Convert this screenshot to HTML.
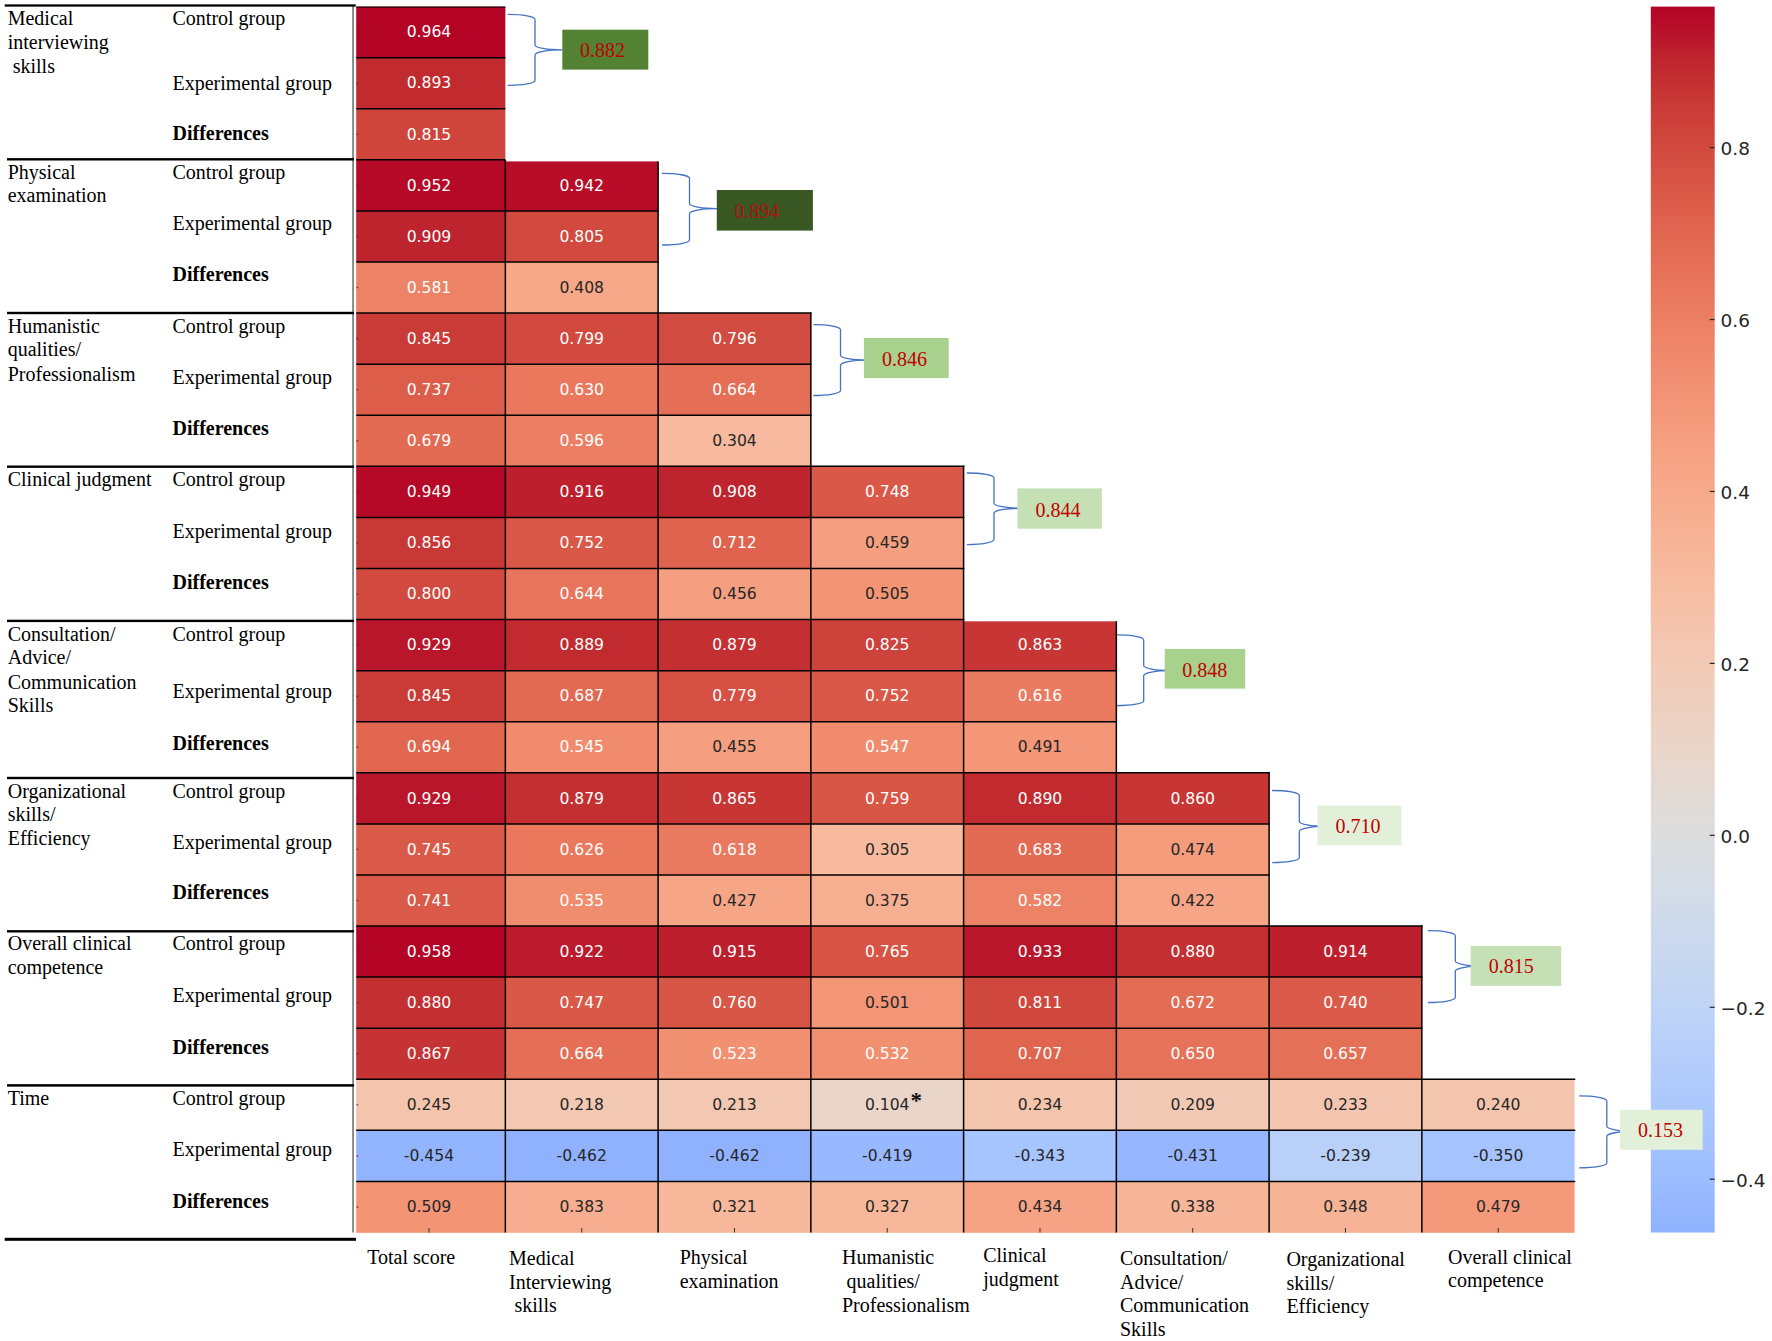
<!DOCTYPE html>
<html><head><meta charset="utf-8"><title>Correlation heatmap</title>
<style>
html,body{margin:0;padding:0;background:#fff;}
body{width:1772px;height:1341px;position:relative;overflow:hidden;}
.an{font-family:"DejaVu Sans","Liberation Sans",sans-serif;font-size:15.6px;}
.cbt{font-family:"DejaVu Sans","Liberation Sans",sans-serif;font-size:18.5px;}
.lb{font-family:"Liberation Serif","Times New Roman",serif;font-size:20px;fill:#000;}
.lbb{font-family:"Liberation Serif","Times New Roman",serif;font-size:20px;font-weight:bold;fill:#000;}
.bx{font-family:"Liberation Serif","Times New Roman",serif;font-size:20px;}
.st{font-family:"Liberation Serif","Times New Roman",serif;font-size:23px;font-weight:bold;}
</style></head><body>
<svg width="1772" height="1341" viewBox="0 0 1772 1341" style="position:absolute;left:0;top:0">
<defs><linearGradient id="cb" x1="0" y1="0" x2="0" y2="1"><stop offset="0.0000" stop-color="#b40426"/><stop offset="0.0208" stop-color="#b8122a"/><stop offset="0.0417" stop-color="#be242e"/><stop offset="0.0625" stop-color="#c43032"/><stop offset="0.0833" stop-color="#ca3b37"/><stop offset="0.1042" stop-color="#cf453c"/><stop offset="0.1250" stop-color="#d44e41"/><stop offset="0.1458" stop-color="#d85646"/><stop offset="0.1667" stop-color="#dd5f4b"/><stop offset="0.1875" stop-color="#e16751"/><stop offset="0.2083" stop-color="#e46e56"/><stop offset="0.2292" stop-color="#e8765c"/><stop offset="0.2500" stop-color="#eb7d62"/><stop offset="0.2708" stop-color="#ee8468"/><stop offset="0.2917" stop-color="#f08b6e"/><stop offset="0.3125" stop-color="#f29274"/><stop offset="0.3333" stop-color="#f4987a"/><stop offset="0.3542" stop-color="#f59f80"/><stop offset="0.3750" stop-color="#f6a586"/><stop offset="0.3958" stop-color="#f7a98b"/><stop offset="0.4167" stop-color="#f7af91"/><stop offset="0.4375" stop-color="#f7b497"/><stop offset="0.4583" stop-color="#f7b99e"/><stop offset="0.4792" stop-color="#f6bea4"/><stop offset="0.5000" stop-color="#f5c2aa"/><stop offset="0.5208" stop-color="#f3c7b1"/><stop offset="0.5417" stop-color="#f2cbb7"/><stop offset="0.5625" stop-color="#efcebd"/><stop offset="0.5833" stop-color="#edd2c3"/><stop offset="0.6042" stop-color="#ead5c9"/><stop offset="0.6250" stop-color="#e6d7cf"/><stop offset="0.6458" stop-color="#e2dad5"/><stop offset="0.6667" stop-color="#dedcdb"/><stop offset="0.6875" stop-color="#dadce0"/><stop offset="0.7083" stop-color="#d6dce4"/><stop offset="0.7292" stop-color="#d2dbe8"/><stop offset="0.7500" stop-color="#cdd9ec"/><stop offset="0.7708" stop-color="#cad8ef"/><stop offset="0.7917" stop-color="#c5d6f2"/><stop offset="0.8125" stop-color="#c0d4f5"/><stop offset="0.8333" stop-color="#bbd1f8"/><stop offset="0.8542" stop-color="#b6cefa"/><stop offset="0.8750" stop-color="#b1cbfc"/><stop offset="0.8958" stop-color="#abc8fd"/><stop offset="0.9167" stop-color="#a6c4fe"/><stop offset="0.9375" stop-color="#a1c0ff"/><stop offset="0.9583" stop-color="#9bbcff"/><stop offset="0.9792" stop-color="#96b7ff"/><stop offset="1.0000" stop-color="#90b2fe"/></linearGradient></defs>
<rect x="356.20" y="6.60" width="149.15" height="51.38" fill="#b40426"/>
<rect x="356.20" y="57.68" width="149.15" height="51.38" fill="#c12b30"/>
<rect x="356.20" y="108.76" width="149.15" height="51.38" fill="#cf453c"/>
<rect x="356.20" y="159.84" width="149.15" height="51.38" fill="#b50927"/>
<rect x="505.35" y="161.40" width="152.75" height="49.82" fill="#b70d28"/>
<rect x="356.20" y="210.92" width="149.15" height="51.38" fill="#be242e"/>
<rect x="505.35" y="210.92" width="152.75" height="51.38" fill="#d1493f"/>
<rect x="356.20" y="262.00" width="149.15" height="51.38" fill="#ed8366"/>
<rect x="505.35" y="262.00" width="152.75" height="51.38" fill="#f7a889"/>
<rect x="356.20" y="313.08" width="149.15" height="51.38" fill="#ca3b37"/>
<rect x="505.35" y="313.08" width="152.75" height="51.38" fill="#d1493f"/>
<rect x="658.10" y="313.08" width="152.75" height="51.38" fill="#d24b40"/>
<rect x="356.20" y="364.16" width="149.15" height="51.38" fill="#dc5d4a"/>
<rect x="505.35" y="364.16" width="152.75" height="51.38" fill="#e9785d"/>
<rect x="658.10" y="364.16" width="152.75" height="51.38" fill="#e46e56"/>
<rect x="356.20" y="415.24" width="149.15" height="51.38" fill="#e36b54"/>
<rect x="505.35" y="415.24" width="152.75" height="51.38" fill="#ec7f63"/>
<rect x="658.10" y="415.24" width="152.75" height="51.38" fill="#f7ba9f"/>
<rect x="356.20" y="466.32" width="149.15" height="51.38" fill="#b50927"/>
<rect x="505.35" y="466.32" width="152.75" height="51.38" fill="#bd1f2d"/>
<rect x="658.10" y="466.32" width="152.75" height="51.38" fill="#be242e"/>
<rect x="810.85" y="466.32" width="152.75" height="51.38" fill="#d95847"/>
<rect x="356.20" y="517.40" width="149.15" height="51.38" fill="#c83836"/>
<rect x="505.35" y="517.40" width="152.75" height="51.38" fill="#d95847"/>
<rect x="658.10" y="517.40" width="152.75" height="51.38" fill="#df634e"/>
<rect x="810.85" y="517.40" width="152.75" height="51.38" fill="#f59f80"/>
<rect x="356.20" y="568.48" width="149.15" height="51.38" fill="#d1493f"/>
<rect x="505.35" y="568.48" width="152.75" height="51.38" fill="#e7745b"/>
<rect x="658.10" y="568.48" width="152.75" height="51.38" fill="#f59f80"/>
<rect x="810.85" y="568.48" width="152.75" height="51.38" fill="#f39475"/>
<rect x="356.20" y="619.56" width="149.15" height="51.38" fill="#ba162b"/>
<rect x="505.35" y="619.56" width="152.75" height="51.38" fill="#c12b30"/>
<rect x="658.10" y="619.56" width="152.75" height="51.38" fill="#c43032"/>
<rect x="810.85" y="619.56" width="152.75" height="51.38" fill="#cd423b"/>
<rect x="963.60" y="621.30" width="152.75" height="49.64" fill="#c73635"/>
<rect x="356.20" y="670.64" width="149.15" height="51.38" fill="#ca3b37"/>
<rect x="505.35" y="670.64" width="152.75" height="51.38" fill="#e26952"/>
<rect x="658.10" y="670.64" width="152.75" height="51.38" fill="#d55042"/>
<rect x="810.85" y="670.64" width="152.75" height="51.38" fill="#d95847"/>
<rect x="963.60" y="670.64" width="152.75" height="51.38" fill="#ea7b60"/>
<rect x="356.20" y="721.72" width="149.15" height="51.38" fill="#e16751"/>
<rect x="505.35" y="721.72" width="152.75" height="51.38" fill="#f08b6e"/>
<rect x="658.10" y="721.72" width="152.75" height="51.38" fill="#f59f80"/>
<rect x="810.85" y="721.72" width="152.75" height="51.38" fill="#f08b6e"/>
<rect x="963.60" y="721.72" width="152.75" height="51.38" fill="#f39778"/>
<rect x="356.20" y="772.80" width="149.15" height="51.38" fill="#ba162b"/>
<rect x="505.35" y="772.80" width="152.75" height="51.38" fill="#c43032"/>
<rect x="658.10" y="772.80" width="152.75" height="51.38" fill="#c73635"/>
<rect x="810.85" y="772.80" width="152.75" height="51.38" fill="#d85646"/>
<rect x="963.60" y="772.80" width="152.75" height="51.38" fill="#c12b30"/>
<rect x="1116.35" y="772.80" width="152.75" height="51.38" fill="#c73635"/>
<rect x="356.20" y="823.88" width="149.15" height="51.38" fill="#da5a49"/>
<rect x="505.35" y="823.88" width="152.75" height="51.38" fill="#e9785d"/>
<rect x="658.10" y="823.88" width="152.75" height="51.38" fill="#e97a5f"/>
<rect x="810.85" y="823.88" width="152.75" height="51.38" fill="#f7ba9f"/>
<rect x="963.60" y="823.88" width="152.75" height="51.38" fill="#e36b54"/>
<rect x="1116.35" y="823.88" width="152.75" height="51.38" fill="#f59c7d"/>
<rect x="356.20" y="874.96" width="149.15" height="51.38" fill="#da5a49"/>
<rect x="505.35" y="874.96" width="152.75" height="51.38" fill="#f18d6f"/>
<rect x="658.10" y="874.96" width="152.75" height="51.38" fill="#f6a586"/>
<rect x="810.85" y="874.96" width="152.75" height="51.38" fill="#f7af91"/>
<rect x="963.60" y="874.96" width="152.75" height="51.38" fill="#ed8366"/>
<rect x="1116.35" y="874.96" width="152.75" height="51.38" fill="#f6a586"/>
<rect x="356.20" y="926.04" width="149.15" height="51.38" fill="#b40426"/>
<rect x="505.35" y="926.04" width="152.75" height="51.38" fill="#bb1b2c"/>
<rect x="658.10" y="926.04" width="152.75" height="51.38" fill="#bd1f2d"/>
<rect x="810.85" y="926.04" width="152.75" height="51.38" fill="#d75445"/>
<rect x="963.60" y="926.04" width="152.75" height="51.38" fill="#ba162b"/>
<rect x="1116.35" y="926.04" width="152.75" height="51.38" fill="#c43032"/>
<rect x="1269.10" y="926.04" width="152.75" height="51.38" fill="#bd1f2d"/>
<rect x="356.20" y="977.12" width="149.15" height="51.38" fill="#c43032"/>
<rect x="505.35" y="977.12" width="152.75" height="51.38" fill="#d95847"/>
<rect x="658.10" y="977.12" width="152.75" height="51.38" fill="#d85646"/>
<rect x="810.85" y="977.12" width="152.75" height="51.38" fill="#f39577"/>
<rect x="963.60" y="977.12" width="152.75" height="51.38" fill="#d0473d"/>
<rect x="1116.35" y="977.12" width="152.75" height="51.38" fill="#e36c55"/>
<rect x="1269.10" y="977.12" width="152.75" height="51.38" fill="#da5a49"/>
<rect x="356.20" y="1028.20" width="149.15" height="51.38" fill="#c53334"/>
<rect x="505.35" y="1028.20" width="152.75" height="51.38" fill="#e46e56"/>
<rect x="658.10" y="1028.20" width="152.75" height="51.38" fill="#f29072"/>
<rect x="810.85" y="1028.20" width="152.75" height="51.38" fill="#f18f71"/>
<rect x="963.60" y="1028.20" width="152.75" height="51.38" fill="#e0654f"/>
<rect x="1116.35" y="1028.20" width="152.75" height="51.38" fill="#e67259"/>
<rect x="1269.10" y="1028.20" width="152.75" height="51.38" fill="#e57058"/>
<rect x="356.20" y="1079.28" width="149.15" height="51.38" fill="#f5c4ac"/>
<rect x="505.35" y="1079.28" width="152.75" height="51.38" fill="#f3c8b2"/>
<rect x="658.10" y="1079.28" width="152.75" height="51.38" fill="#f3c8b2"/>
<rect x="810.85" y="1079.28" width="152.75" height="51.38" fill="#ead5c9"/>
<rect x="963.60" y="1079.28" width="152.75" height="51.38" fill="#f4c5ad"/>
<rect x="1116.35" y="1079.28" width="152.75" height="51.38" fill="#f2c9b4"/>
<rect x="1269.10" y="1079.28" width="152.75" height="51.38" fill="#f4c6af"/>
<rect x="1421.85" y="1079.28" width="152.75" height="51.38" fill="#f4c5ad"/>
<rect x="356.20" y="1130.36" width="149.15" height="51.38" fill="#92b4fe"/>
<rect x="505.35" y="1130.36" width="152.75" height="51.38" fill="#90b2fe"/>
<rect x="658.10" y="1130.36" width="152.75" height="51.38" fill="#90b2fe"/>
<rect x="810.85" y="1130.36" width="152.75" height="51.38" fill="#98b9ff"/>
<rect x="963.60" y="1130.36" width="152.75" height="51.38" fill="#a6c4fe"/>
<rect x="1116.35" y="1130.36" width="152.75" height="51.38" fill="#96b7ff"/>
<rect x="1269.10" y="1130.36" width="152.75" height="51.38" fill="#b9d0f9"/>
<rect x="1421.85" y="1130.36" width="152.75" height="51.38" fill="#a5c3fe"/>
<rect x="356.20" y="1181.44" width="149.15" height="51.38" fill="#f39475"/>
<rect x="505.35" y="1181.44" width="152.75" height="51.38" fill="#f7ad90"/>
<rect x="658.10" y="1181.44" width="152.75" height="51.38" fill="#f7b89c"/>
<rect x="810.85" y="1181.44" width="152.75" height="51.38" fill="#f7b79b"/>
<rect x="963.60" y="1181.44" width="152.75" height="51.38" fill="#f6a385"/>
<rect x="1116.35" y="1181.44" width="152.75" height="51.38" fill="#f7b599"/>
<rect x="1269.10" y="1181.44" width="152.75" height="51.38" fill="#f7b396"/>
<rect x="1421.85" y="1181.44" width="152.75" height="51.38" fill="#f49a7b"/>
<line x1="356.20" y1="7.10" x2="505.35" y2="7.10" stroke="#000" stroke-width="1.00"/>
<line x1="356.20" y1="57.68" x2="505.35" y2="57.68" stroke="#000" stroke-width="1.50"/>
<line x1="356.20" y1="108.76" x2="505.35" y2="108.76" stroke="#000" stroke-width="1.50"/>
<line x1="356.20" y1="159.84" x2="505.35" y2="159.84" stroke="#000" stroke-width="1.50"/>
<line x1="356.20" y1="210.92" x2="658.80" y2="210.92" stroke="#000" stroke-width="1.50"/>
<line x1="356.20" y1="262.00" x2="658.80" y2="262.00" stroke="#000" stroke-width="1.50"/>
<line x1="356.20" y1="313.08" x2="811.55" y2="313.08" stroke="#000" stroke-width="1.50"/>
<line x1="356.20" y1="364.16" x2="811.55" y2="364.16" stroke="#000" stroke-width="1.50"/>
<line x1="356.20" y1="415.24" x2="811.55" y2="415.24" stroke="#000" stroke-width="1.50"/>
<line x1="356.20" y1="466.32" x2="964.30" y2="466.32" stroke="#000" stroke-width="1.50"/>
<line x1="356.20" y1="517.40" x2="964.30" y2="517.40" stroke="#000" stroke-width="1.50"/>
<line x1="356.20" y1="568.48" x2="964.30" y2="568.48" stroke="#000" stroke-width="1.50"/>
<line x1="356.20" y1="619.56" x2="964.30" y2="619.56" stroke="#000" stroke-width="1.50"/>
<line x1="356.20" y1="670.64" x2="1117.05" y2="670.64" stroke="#000" stroke-width="1.50"/>
<line x1="356.20" y1="721.72" x2="1117.05" y2="721.72" stroke="#000" stroke-width="1.50"/>
<line x1="356.20" y1="772.80" x2="1269.80" y2="772.80" stroke="#000" stroke-width="1.50"/>
<line x1="356.20" y1="823.88" x2="1269.80" y2="823.88" stroke="#000" stroke-width="1.50"/>
<line x1="356.20" y1="874.96" x2="1269.80" y2="874.96" stroke="#000" stroke-width="1.50"/>
<line x1="356.20" y1="926.04" x2="1422.55" y2="926.04" stroke="#000" stroke-width="1.50"/>
<line x1="356.20" y1="977.12" x2="1422.55" y2="977.12" stroke="#000" stroke-width="1.50"/>
<line x1="356.20" y1="1028.20" x2="1422.55" y2="1028.20" stroke="#000" stroke-width="1.50"/>
<line x1="356.20" y1="1079.28" x2="1575.30" y2="1079.28" stroke="#000" stroke-width="1.50"/>
<line x1="356.20" y1="1130.36" x2="1575.30" y2="1130.36" stroke="#000" stroke-width="1.50"/>
<line x1="356.20" y1="1181.44" x2="1575.30" y2="1181.44" stroke="#000" stroke-width="1.50"/>
<line x1="505.35" y1="159.84" x2="505.35" y2="1232.52" stroke="#000" stroke-width="1.50"/>
<line x1="658.10" y1="161.40" x2="658.10" y2="1232.52" stroke="#000" stroke-width="1.50"/>
<line x1="810.85" y1="312.38" x2="810.85" y2="1232.52" stroke="#000" stroke-width="1.50"/>
<line x1="963.60" y1="465.62" x2="963.60" y2="1232.52" stroke="#000" stroke-width="1.50"/>
<line x1="1116.35" y1="621.30" x2="1116.35" y2="1232.52" stroke="#000" stroke-width="1.50"/>
<line x1="1269.10" y1="772.10" x2="1269.10" y2="1232.52" stroke="#000" stroke-width="1.50"/>
<line x1="1421.85" y1="925.34" x2="1421.85" y2="1232.52" stroke="#000" stroke-width="1.50"/>
<line x1="428.98" y1="1228.02" x2="428.98" y2="1232.52" stroke="#333" stroke-width="1"/>
<line x1="581.73" y1="1228.02" x2="581.73" y2="1232.52" stroke="#333" stroke-width="1"/>
<line x1="734.48" y1="1228.02" x2="734.48" y2="1232.52" stroke="#333" stroke-width="1"/>
<line x1="887.23" y1="1228.02" x2="887.23" y2="1232.52" stroke="#333" stroke-width="1"/>
<line x1="1039.97" y1="1228.02" x2="1039.97" y2="1232.52" stroke="#333" stroke-width="1"/>
<line x1="1192.72" y1="1228.02" x2="1192.72" y2="1232.52" stroke="#333" stroke-width="1"/>
<line x1="1345.47" y1="1228.02" x2="1345.47" y2="1232.52" stroke="#333" stroke-width="1"/>
<line x1="1498.22" y1="1228.02" x2="1498.22" y2="1232.52" stroke="#333" stroke-width="1"/>
<rect x="356.60" y="31.44" width="1.6" height="1.4" fill="#7a1010" opacity="0.8"/>
<rect x="356.60" y="82.52" width="1.6" height="1.4" fill="#7a1010" opacity="0.8"/>
<rect x="356.60" y="133.60" width="1.6" height="1.4" fill="#7a1010" opacity="0.8"/>
<rect x="356.60" y="184.68" width="1.6" height="1.4" fill="#7a1010" opacity="0.8"/>
<rect x="356.60" y="235.76" width="1.6" height="1.4" fill="#7a1010" opacity="0.8"/>
<rect x="356.60" y="286.84" width="1.6" height="1.4" fill="#7a1010" opacity="0.8"/>
<rect x="356.60" y="337.92" width="1.6" height="1.4" fill="#7a1010" opacity="0.8"/>
<rect x="356.60" y="389.00" width="1.6" height="1.4" fill="#7a1010" opacity="0.8"/>
<rect x="356.60" y="440.08" width="1.6" height="1.4" fill="#7a1010" opacity="0.8"/>
<rect x="356.60" y="491.16" width="1.6" height="1.4" fill="#7a1010" opacity="0.8"/>
<rect x="356.60" y="542.24" width="1.6" height="1.4" fill="#7a1010" opacity="0.8"/>
<rect x="356.60" y="593.32" width="1.6" height="1.4" fill="#7a1010" opacity="0.8"/>
<rect x="356.60" y="644.40" width="1.6" height="1.4" fill="#7a1010" opacity="0.8"/>
<rect x="356.60" y="695.48" width="1.6" height="1.4" fill="#7a1010" opacity="0.8"/>
<rect x="356.60" y="746.56" width="1.6" height="1.4" fill="#7a1010" opacity="0.8"/>
<rect x="356.60" y="797.64" width="1.6" height="1.4" fill="#7a1010" opacity="0.8"/>
<rect x="356.60" y="848.72" width="1.6" height="1.4" fill="#7a1010" opacity="0.8"/>
<rect x="356.60" y="899.80" width="1.6" height="1.4" fill="#7a1010" opacity="0.8"/>
<rect x="356.60" y="950.88" width="1.6" height="1.4" fill="#7a1010" opacity="0.8"/>
<rect x="356.60" y="1001.96" width="1.6" height="1.4" fill="#7a1010" opacity="0.8"/>
<rect x="356.60" y="1053.04" width="1.6" height="1.4" fill="#7a1010" opacity="0.8"/>
<rect x="356.60" y="1104.12" width="1.6" height="1.4" fill="#7a1010" opacity="0.8"/>
<rect x="356.60" y="1155.20" width="1.6" height="1.4" fill="#7a1010" opacity="0.8"/>
<rect x="356.60" y="1206.28" width="1.6" height="1.4" fill="#7a1010" opacity="0.8"/>
<text x="428.98" y="37.34" class="an" fill="#ffffff" text-anchor="middle">0.964</text>
<text x="428.98" y="88.42" class="an" fill="#ffffff" text-anchor="middle">0.893</text>
<text x="428.98" y="139.50" class="an" fill="#ffffff" text-anchor="middle">0.815</text>
<text x="428.98" y="190.58" class="an" fill="#ffffff" text-anchor="middle">0.952</text>
<text x="581.73" y="190.58" class="an" fill="#ffffff" text-anchor="middle">0.942</text>
<text x="428.98" y="241.66" class="an" fill="#ffffff" text-anchor="middle">0.909</text>
<text x="581.73" y="241.66" class="an" fill="#ffffff" text-anchor="middle">0.805</text>
<text x="428.98" y="292.74" class="an" fill="#ffffff" text-anchor="middle">0.581</text>
<text x="581.73" y="292.74" class="an" fill="#262626" text-anchor="middle">0.408</text>
<text x="428.98" y="343.82" class="an" fill="#ffffff" text-anchor="middle">0.845</text>
<text x="581.73" y="343.82" class="an" fill="#ffffff" text-anchor="middle">0.799</text>
<text x="734.48" y="343.82" class="an" fill="#ffffff" text-anchor="middle">0.796</text>
<text x="428.98" y="394.90" class="an" fill="#ffffff" text-anchor="middle">0.737</text>
<text x="581.73" y="394.90" class="an" fill="#ffffff" text-anchor="middle">0.630</text>
<text x="734.48" y="394.90" class="an" fill="#ffffff" text-anchor="middle">0.664</text>
<text x="428.98" y="445.98" class="an" fill="#ffffff" text-anchor="middle">0.679</text>
<text x="581.73" y="445.98" class="an" fill="#ffffff" text-anchor="middle">0.596</text>
<text x="734.48" y="445.98" class="an" fill="#262626" text-anchor="middle">0.304</text>
<text x="428.98" y="497.06" class="an" fill="#ffffff" text-anchor="middle">0.949</text>
<text x="581.73" y="497.06" class="an" fill="#ffffff" text-anchor="middle">0.916</text>
<text x="734.48" y="497.06" class="an" fill="#ffffff" text-anchor="middle">0.908</text>
<text x="887.23" y="497.06" class="an" fill="#ffffff" text-anchor="middle">0.748</text>
<text x="428.98" y="548.14" class="an" fill="#ffffff" text-anchor="middle">0.856</text>
<text x="581.73" y="548.14" class="an" fill="#ffffff" text-anchor="middle">0.752</text>
<text x="734.48" y="548.14" class="an" fill="#ffffff" text-anchor="middle">0.712</text>
<text x="887.23" y="548.14" class="an" fill="#262626" text-anchor="middle">0.459</text>
<text x="428.98" y="599.22" class="an" fill="#ffffff" text-anchor="middle">0.800</text>
<text x="581.73" y="599.22" class="an" fill="#ffffff" text-anchor="middle">0.644</text>
<text x="734.48" y="599.22" class="an" fill="#262626" text-anchor="middle">0.456</text>
<text x="887.23" y="599.22" class="an" fill="#262626" text-anchor="middle">0.505</text>
<text x="428.98" y="650.30" class="an" fill="#ffffff" text-anchor="middle">0.929</text>
<text x="581.73" y="650.30" class="an" fill="#ffffff" text-anchor="middle">0.889</text>
<text x="734.48" y="650.30" class="an" fill="#ffffff" text-anchor="middle">0.879</text>
<text x="887.23" y="650.30" class="an" fill="#ffffff" text-anchor="middle">0.825</text>
<text x="1039.97" y="650.30" class="an" fill="#ffffff" text-anchor="middle">0.863</text>
<text x="428.98" y="701.38" class="an" fill="#ffffff" text-anchor="middle">0.845</text>
<text x="581.73" y="701.38" class="an" fill="#ffffff" text-anchor="middle">0.687</text>
<text x="734.48" y="701.38" class="an" fill="#ffffff" text-anchor="middle">0.779</text>
<text x="887.23" y="701.38" class="an" fill="#ffffff" text-anchor="middle">0.752</text>
<text x="1039.97" y="701.38" class="an" fill="#ffffff" text-anchor="middle">0.616</text>
<text x="428.98" y="752.46" class="an" fill="#ffffff" text-anchor="middle">0.694</text>
<text x="581.73" y="752.46" class="an" fill="#ffffff" text-anchor="middle">0.545</text>
<text x="734.48" y="752.46" class="an" fill="#262626" text-anchor="middle">0.455</text>
<text x="887.23" y="752.46" class="an" fill="#ffffff" text-anchor="middle">0.547</text>
<text x="1039.97" y="752.46" class="an" fill="#262626" text-anchor="middle">0.491</text>
<text x="428.98" y="803.54" class="an" fill="#ffffff" text-anchor="middle">0.929</text>
<text x="581.73" y="803.54" class="an" fill="#ffffff" text-anchor="middle">0.879</text>
<text x="734.48" y="803.54" class="an" fill="#ffffff" text-anchor="middle">0.865</text>
<text x="887.23" y="803.54" class="an" fill="#ffffff" text-anchor="middle">0.759</text>
<text x="1039.97" y="803.54" class="an" fill="#ffffff" text-anchor="middle">0.890</text>
<text x="1192.72" y="803.54" class="an" fill="#ffffff" text-anchor="middle">0.860</text>
<text x="428.98" y="854.62" class="an" fill="#ffffff" text-anchor="middle">0.745</text>
<text x="581.73" y="854.62" class="an" fill="#ffffff" text-anchor="middle">0.626</text>
<text x="734.48" y="854.62" class="an" fill="#ffffff" text-anchor="middle">0.618</text>
<text x="887.23" y="854.62" class="an" fill="#262626" text-anchor="middle">0.305</text>
<text x="1039.97" y="854.62" class="an" fill="#ffffff" text-anchor="middle">0.683</text>
<text x="1192.72" y="854.62" class="an" fill="#262626" text-anchor="middle">0.474</text>
<text x="428.98" y="905.70" class="an" fill="#ffffff" text-anchor="middle">0.741</text>
<text x="581.73" y="905.70" class="an" fill="#ffffff" text-anchor="middle">0.535</text>
<text x="734.48" y="905.70" class="an" fill="#262626" text-anchor="middle">0.427</text>
<text x="887.23" y="905.70" class="an" fill="#262626" text-anchor="middle">0.375</text>
<text x="1039.97" y="905.70" class="an" fill="#ffffff" text-anchor="middle">0.582</text>
<text x="1192.72" y="905.70" class="an" fill="#262626" text-anchor="middle">0.422</text>
<text x="428.98" y="956.78" class="an" fill="#ffffff" text-anchor="middle">0.958</text>
<text x="581.73" y="956.78" class="an" fill="#ffffff" text-anchor="middle">0.922</text>
<text x="734.48" y="956.78" class="an" fill="#ffffff" text-anchor="middle">0.915</text>
<text x="887.23" y="956.78" class="an" fill="#ffffff" text-anchor="middle">0.765</text>
<text x="1039.97" y="956.78" class="an" fill="#ffffff" text-anchor="middle">0.933</text>
<text x="1192.72" y="956.78" class="an" fill="#ffffff" text-anchor="middle">0.880</text>
<text x="1345.47" y="956.78" class="an" fill="#ffffff" text-anchor="middle">0.914</text>
<text x="428.98" y="1007.86" class="an" fill="#ffffff" text-anchor="middle">0.880</text>
<text x="581.73" y="1007.86" class="an" fill="#ffffff" text-anchor="middle">0.747</text>
<text x="734.48" y="1007.86" class="an" fill="#ffffff" text-anchor="middle">0.760</text>
<text x="887.23" y="1007.86" class="an" fill="#262626" text-anchor="middle">0.501</text>
<text x="1039.97" y="1007.86" class="an" fill="#ffffff" text-anchor="middle">0.811</text>
<text x="1192.72" y="1007.86" class="an" fill="#ffffff" text-anchor="middle">0.672</text>
<text x="1345.47" y="1007.86" class="an" fill="#ffffff" text-anchor="middle">0.740</text>
<text x="428.98" y="1058.94" class="an" fill="#ffffff" text-anchor="middle">0.867</text>
<text x="581.73" y="1058.94" class="an" fill="#ffffff" text-anchor="middle">0.664</text>
<text x="734.48" y="1058.94" class="an" fill="#ffffff" text-anchor="middle">0.523</text>
<text x="887.23" y="1058.94" class="an" fill="#ffffff" text-anchor="middle">0.532</text>
<text x="1039.97" y="1058.94" class="an" fill="#ffffff" text-anchor="middle">0.707</text>
<text x="1192.72" y="1058.94" class="an" fill="#ffffff" text-anchor="middle">0.650</text>
<text x="1345.47" y="1058.94" class="an" fill="#ffffff" text-anchor="middle">0.657</text>
<text x="428.98" y="1110.02" class="an" fill="#262626" text-anchor="middle">0.245</text>
<text x="581.73" y="1110.02" class="an" fill="#262626" text-anchor="middle">0.218</text>
<text x="734.48" y="1110.02" class="an" fill="#262626" text-anchor="middle">0.213</text>
<text x="887.23" y="1110.02" class="an" fill="#262626" text-anchor="middle">0.104</text>
<text x="910.43" y="1107.72" class="st" fill="#111">*</text>
<text x="1039.97" y="1110.02" class="an" fill="#262626" text-anchor="middle">0.234</text>
<text x="1192.72" y="1110.02" class="an" fill="#262626" text-anchor="middle">0.209</text>
<text x="1345.47" y="1110.02" class="an" fill="#262626" text-anchor="middle">0.233</text>
<text x="1498.22" y="1110.02" class="an" fill="#262626" text-anchor="middle">0.240</text>
<text x="428.98" y="1161.10" class="an" fill="#262626" text-anchor="middle">-0.454</text>
<text x="581.73" y="1161.10" class="an" fill="#262626" text-anchor="middle">-0.462</text>
<text x="734.48" y="1161.10" class="an" fill="#262626" text-anchor="middle">-0.462</text>
<text x="887.23" y="1161.10" class="an" fill="#262626" text-anchor="middle">-0.419</text>
<text x="1039.97" y="1161.10" class="an" fill="#262626" text-anchor="middle">-0.343</text>
<text x="1192.72" y="1161.10" class="an" fill="#262626" text-anchor="middle">-0.431</text>
<text x="1345.47" y="1161.10" class="an" fill="#262626" text-anchor="middle">-0.239</text>
<text x="1498.22" y="1161.10" class="an" fill="#262626" text-anchor="middle">-0.350</text>
<text x="428.98" y="1212.18" class="an" fill="#262626" text-anchor="middle">0.509</text>
<text x="581.73" y="1212.18" class="an" fill="#262626" text-anchor="middle">0.383</text>
<text x="734.48" y="1212.18" class="an" fill="#262626" text-anchor="middle">0.321</text>
<text x="887.23" y="1212.18" class="an" fill="#262626" text-anchor="middle">0.327</text>
<text x="1039.97" y="1212.18" class="an" fill="#262626" text-anchor="middle">0.434</text>
<text x="1192.72" y="1212.18" class="an" fill="#262626" text-anchor="middle">0.338</text>
<text x="1345.47" y="1212.18" class="an" fill="#262626" text-anchor="middle">0.348</text>
<text x="1498.22" y="1212.18" class="an" fill="#262626" text-anchor="middle">0.479</text>
<rect x="1650.80" y="6.60" width="63.90" height="1225.92" fill="url(#cb)"/>
<line x1="1709.70" y1="147.59" x2="1714.70" y2="147.59" stroke="#262626" stroke-width="1.2"/>
<text x="1720.60" y="155.19" class="cbt" fill="#262626">0.8</text>
<line x1="1709.70" y1="319.53" x2="1714.70" y2="319.53" stroke="#262626" stroke-width="1.2"/>
<text x="1720.60" y="327.13" class="cbt" fill="#262626">0.6</text>
<line x1="1709.70" y1="491.47" x2="1714.70" y2="491.47" stroke="#262626" stroke-width="1.2"/>
<text x="1720.60" y="499.07" class="cbt" fill="#262626">0.4</text>
<line x1="1709.70" y1="663.40" x2="1714.70" y2="663.40" stroke="#262626" stroke-width="1.2"/>
<text x="1720.60" y="671.00" class="cbt" fill="#262626">0.2</text>
<line x1="1709.70" y1="835.34" x2="1714.70" y2="835.34" stroke="#262626" stroke-width="1.2"/>
<text x="1720.60" y="842.94" class="cbt" fill="#262626">0.0</text>
<line x1="1709.70" y1="1007.28" x2="1714.70" y2="1007.28" stroke="#262626" stroke-width="1.2"/>
<text x="1720.60" y="1014.88" class="cbt" fill="#262626">−0.2</text>
<line x1="1709.70" y1="1179.22" x2="1714.70" y2="1179.22" stroke="#262626" stroke-width="1.2"/>
<text x="1720.60" y="1186.82" class="cbt" fill="#262626">−0.4</text>
<path d="M507.7 14.4 A27.3 5.0 0 0 1 535.0 19.4 L535.0 44.9 A27.3 5.0 0 0 0 562.3 49.9 A27.3 5.0 0 0 0 535.0 54.9 L535.0 80.4 A27.3 5.0 0 0 1 507.7 85.4" fill="none" stroke="#4472c4" stroke-width="1.3"/>
<rect x="562.3" y="29.7" width="86.0" height="39.9" fill="#548235"/>
<text x="602.6" y="57.0" class="bx" fill="#c00000" text-anchor="middle">0.882</text>
<path d="M662.0 173.3 A27.5 5.0 0 0 1 689.5 178.3 L689.5 203.6 A27.5 5.0 0 0 0 717.0 208.6 A27.5 5.0 0 0 0 689.5 213.6 L689.5 240.0 A27.5 5.0 0 0 1 662.0 245.0" fill="none" stroke="#4472c4" stroke-width="1.3"/>
<rect x="716.8" y="190.0" width="96.1" height="40.6" fill="#385723"/>
<text x="756.7" y="217.8" class="bx" fill="#b01010" text-anchor="middle">0.894</text>
<path d="M813.4 324.6 A27.1 5.0 0 0 1 840.5 329.6 L840.5 355.2 A27.1 5.0 0 0 0 867.6 360.2 A27.1 5.0 0 0 0 840.5 365.2 L840.5 390.5 A27.1 5.0 0 0 1 813.4 395.5" fill="none" stroke="#4472c4" stroke-width="1.3"/>
<rect x="863.9" y="338.0" width="84.8" height="40.1" fill="#a9d18e"/>
<text x="904.5" y="366.2" class="bx" fill="#c00000" text-anchor="middle">0.846</text>
<path d="M966.9 473.0 A27.1 5.0 0 0 1 994.0 478.0 L994.0 503.2 A27.1 5.0 0 0 0 1021.1 508.2 A27.1 5.0 0 0 0 994.0 513.2 L994.0 539.6 A27.1 5.0 0 0 1 966.9 544.6" fill="none" stroke="#4472c4" stroke-width="1.3"/>
<rect x="1017.4" y="488.4" width="84.4" height="40.3" fill="#c5e0b4"/>
<text x="1058.0" y="516.8" class="bx" fill="#c00000" text-anchor="middle">0.844</text>
<path d="M1116.9 634.9 A26.8 5.0 0 0 1 1143.7 639.9 L1143.7 665.6 A26.8 5.0 0 0 0 1170.5 670.6 A26.8 5.0 0 0 0 1143.7 675.6 L1143.7 700.7 A26.8 5.0 0 0 1 1116.9 705.7" fill="none" stroke="#4472c4" stroke-width="1.3"/>
<rect x="1164.7" y="648.9" width="80.5" height="39.7" fill="#a9d18e"/>
<text x="1204.8" y="676.7" class="bx" fill="#c00000" text-anchor="middle">0.848</text>
<path d="M1272.1 790.5 A27.2 5.0 0 0 1 1299.3 795.5 L1299.3 821.4 A27.2 5.0 0 0 0 1326.5 826.4 A27.2 5.0 0 0 0 1299.3 831.4 L1299.3 857.7 A27.2 5.0 0 0 1 1272.1 862.7" fill="none" stroke="#4472c4" stroke-width="1.3"/>
<rect x="1317.5" y="805.6" width="84.0" height="39.7" fill="#e2f0d9"/>
<text x="1358.0" y="832.7" class="bx" fill="#c00000" text-anchor="middle">0.710</text>
<path d="M1427.9 930.6 A27.4 5.0 0 0 1 1455.3 935.6 L1455.3 961.1 A27.4 5.0 0 0 0 1482.7 966.1 A27.4 5.0 0 0 0 1455.3 971.1 L1455.3 997.5 A27.4 5.0 0 0 1 1427.9 1002.5" fill="none" stroke="#4472c4" stroke-width="1.3"/>
<rect x="1470.7" y="945.9" width="90.5" height="39.9" fill="#c5e0b4"/>
<text x="1511.3" y="973.4" class="bx" fill="#c00000" text-anchor="middle">0.815</text>
<path d="M1579.2 1095.9 A27.6 5.0 0 0 1 1606.8 1100.9 L1606.8 1126.3 A27.6 5.0 0 0 0 1634.4 1131.3 A27.6 5.0 0 0 0 1606.8 1136.3 L1606.8 1162.9 A27.6 5.0 0 0 1 1579.2 1167.9" fill="none" stroke="#4472c4" stroke-width="1.3"/>
<rect x="1619.9" y="1109.8" width="82.8" height="40.0" fill="#e2f0d9"/>
<text x="1660.5" y="1136.9" class="bx" fill="#c00000" text-anchor="middle">0.153</text>
<rect x="352.2" y="5" width="1.7" height="1227.5" fill="#7c7c7c"/>
<rect x="4.7" y="4.35" width="351.0" height="2.30" fill="#000"/>
<rect x="7.0" y="158.10" width="347.0" height="2.40" fill="#000"/>
<rect x="7.0" y="311.80" width="347.0" height="2.40" fill="#000"/>
<rect x="7.0" y="465.50" width="347.0" height="2.40" fill="#000"/>
<rect x="7.0" y="619.70" width="347.0" height="2.40" fill="#000"/>
<rect x="7.0" y="776.80" width="347.0" height="2.40" fill="#000"/>
<rect x="7.0" y="930.10" width="347.0" height="2.40" fill="#000"/>
<rect x="7.0" y="1084.15" width="347.0" height="2.50" fill="#000"/>
<rect x="4.7" y="1237.80" width="351.3" height="3.00" fill="#000"/>
<text x="7.7" y="25.3" class="lb" xml:space="preserve">Medical</text>
<text x="7.7" y="49.0" class="lb" xml:space="preserve">interviewing</text>
<text x="12.7" y="72.7" class="lb" xml:space="preserve">skills</text>
<text x="172.5" y="25.3" class="lb" xml:space="preserve">Control group</text>
<text x="172.5" y="90.3" class="lb" xml:space="preserve">Experimental group</text>
<text x="172.5" y="140.4" class="lbb" xml:space="preserve">Differences</text>
<text x="7.7" y="178.8" class="lb" xml:space="preserve">Physical</text>
<text x="7.7" y="202.2" class="lb" xml:space="preserve">examination</text>
<text x="172.5" y="178.8" class="lb" xml:space="preserve">Control group</text>
<text x="172.5" y="230.2" class="lb" xml:space="preserve">Experimental group</text>
<text x="172.5" y="281.0" class="lbb" xml:space="preserve">Differences</text>
<text x="7.7" y="332.7" class="lb" xml:space="preserve">Humanistic</text>
<text x="7.7" y="356.4" class="lb" xml:space="preserve">qualities/</text>
<text x="7.7" y="380.6" class="lb" xml:space="preserve">Professionalism</text>
<text x="172.5" y="332.7" class="lb" xml:space="preserve">Control group</text>
<text x="172.5" y="384.2" class="lb" xml:space="preserve">Experimental group</text>
<text x="172.5" y="435.4" class="lbb" xml:space="preserve">Differences</text>
<text x="7.7" y="486.2" class="lb" xml:space="preserve">Clinical judgment</text>
<text x="172.5" y="486.2" class="lb" xml:space="preserve">Control group</text>
<text x="172.5" y="537.5" class="lb" xml:space="preserve">Experimental group</text>
<text x="172.5" y="588.9" class="lbb" xml:space="preserve">Differences</text>
<text x="7.7" y="640.6" class="lb" xml:space="preserve">Consultation/</text>
<text x="7.7" y="664.3" class="lb" xml:space="preserve">Advice/</text>
<text x="7.7" y="688.5" class="lb" xml:space="preserve">Communication</text>
<text x="7.7" y="712.2" class="lb" xml:space="preserve">Skills</text>
<text x="172.5" y="640.6" class="lb" xml:space="preserve">Control group</text>
<text x="172.5" y="698.2" class="lb" xml:space="preserve">Experimental group</text>
<text x="172.5" y="749.7" class="lbb" xml:space="preserve">Differences</text>
<text x="7.7" y="797.5" class="lb" xml:space="preserve">Organizational</text>
<text x="7.7" y="821.2" class="lb" xml:space="preserve">skills/</text>
<text x="7.7" y="845.0" class="lb" xml:space="preserve">Efficiency</text>
<text x="172.5" y="797.5" class="lb" xml:space="preserve">Control group</text>
<text x="172.5" y="849.0" class="lb" xml:space="preserve">Experimental group</text>
<text x="172.5" y="898.7" class="lbb" xml:space="preserve">Differences</text>
<text x="7.7" y="950.4" class="lb" xml:space="preserve">Overall clinical</text>
<text x="7.7" y="973.7" class="lb" xml:space="preserve">competence</text>
<text x="172.5" y="950.4" class="lb" xml:space="preserve">Control group</text>
<text x="172.5" y="1001.9" class="lb" xml:space="preserve">Experimental group</text>
<text x="172.5" y="1053.8" class="lbb" xml:space="preserve">Differences</text>
<text x="7.7" y="1104.6" class="lb" xml:space="preserve">Time</text>
<text x="172.5" y="1104.6" class="lb" xml:space="preserve">Control group</text>
<text x="172.5" y="1156.3" class="lb" xml:space="preserve">Experimental group</text>
<text x="172.5" y="1208.0" class="lbb" xml:space="preserve">Differences</text>
<text x="367.2" y="1264.4" class="lb" xml:space="preserve">Total score</text>
<text x="509.0" y="1264.9" class="lb" xml:space="preserve">Medical</text>
<text x="509.0" y="1288.9" class="lb" xml:space="preserve">Interviewing</text>
<text x="514.5" y="1311.8" class="lb" xml:space="preserve">skills</text>
<text x="679.7" y="1263.5" class="lb" xml:space="preserve">Physical</text>
<text x="679.7" y="1287.5" class="lb" xml:space="preserve">examination</text>
<text x="842.0" y="1263.8" class="lb" xml:space="preserve">Humanistic</text>
<text x="846.6" y="1287.8" class="lb" xml:space="preserve">qualities/</text>
<text x="842.0" y="1311.5" class="lb" xml:space="preserve">Professionalism</text>
<text x="983.2" y="1262.1" class="lb" xml:space="preserve">Clinical</text>
<text x="983.2" y="1286.0" class="lb" xml:space="preserve">judgment</text>
<text x="1120.0" y="1265.2" class="lb" xml:space="preserve">Consultation/</text>
<text x="1120.0" y="1289.0" class="lb" xml:space="preserve">Advice/</text>
<text x="1120.0" y="1312.3" class="lb" xml:space="preserve">Communication</text>
<text x="1120.0" y="1335.5" class="lb" xml:space="preserve">Skills</text>
<text x="1286.4" y="1266.3" class="lb" xml:space="preserve">Organizational</text>
<text x="1286.4" y="1290.3" class="lb" xml:space="preserve">skills/</text>
<text x="1286.4" y="1313.2" class="lb" xml:space="preserve">Efficiency</text>
<text x="1448.1" y="1263.5" class="lb" xml:space="preserve">Overall clinical</text>
<text x="1448.1" y="1287.0" class="lb" xml:space="preserve">competence</text>
</svg>
</body></html>
